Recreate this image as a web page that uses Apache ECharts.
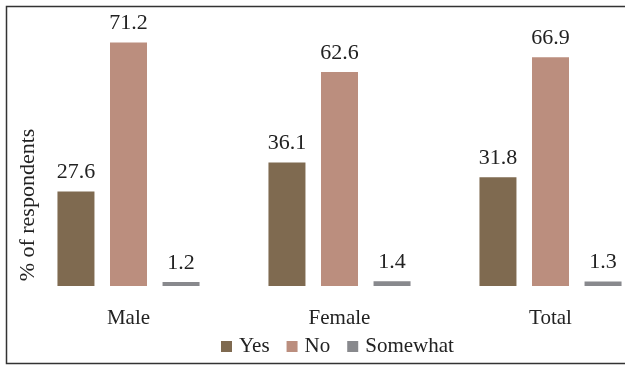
<!DOCTYPE html>
<html>
<head>
<meta charset="utf-8">
<script src="https://cdn.jsdelivr.net/npm/echarts@6/dist/echarts.min.js"></script>
<style>
  html, body { margin: 0; padding: 0; background: #fff; }
  #chart { width: 625px; height: 366px; }
</style>
</head>
<body>
<div id="chart"></div>
<script>
// Share of respondents by gender
const categories = ['Male', 'Female', 'Total'];
const yesValues = [27.6, 36.1, 31.8];
const noValues = [71.2, 62.6, 66.9];
const somewhatValues = [1.2, 1.4, 1.3];
const seriesNames = ['Yes', 'No', 'Somewhat'];
const yAxisTitle = '% of respondents';

const FONT = '"Liberation Serif", "DejaVu Serif", serif';
const colors = ['#7f6a50', '#bb8e7e', '#88898d'];

const labelStyle = {
  show: true,
  position: 'top',
  distance: 8,
  color: '#222',
  fontFamily: FONT,
  fontSize: 22
};

function barSeries(name, data, color) {
  return {
    name: name,
    type: 'bar',
    data: data,
    barWidth: 37,
    barGap: '42%',
    itemStyle: { color: color },
    label: labelStyle
  };
}

const chart = echarts.init(document.getElementById('chart'), null, { renderer: 'canvas' });
chart.setOption({
  animation: false,
  color: colors,
  grid: { left: 23, width: 633, top: 12.4, bottom: 80, containLabel: false, outerBoundsMode: 'none' },
  xAxis: {
    type: 'category',
    data: categories,
    axisLine: { show: false },
    axisTick: { show: false },
    axisLabel: { color: '#222', fontFamily: FONT, fontSize: 21, margin: 22 }
  },
  yAxis: {
    type: 'value',
    min: 0,
    max: 80,
    axisLine: { show: false },
    axisTick: { show: false },
    axisLabel: { show: false },
    splitLine: { show: false }
  },
  legend: {
    data: seriesNames,
    bottom: 4,
    left: 216,
    itemWidth: 11,
    itemHeight: 11,
    itemGap: 17,
    icon: 'rect',
    textStyle: { color: '#222', fontFamily: FONT, fontSize: 21, padding: [0, 0, 0, 2] }
  },
  graphic: [{
    type: 'rect',
    shape: { x: 6.5, y: 6.5, width: 640, height: 357 },
    style: { fill: 'none', stroke: '#333', lineWidth: 1.5 },
    silent: true
  }, {
    type: 'text',
    x: 28,
    y: 205,
    rotation: Math.PI / 2,
    style: {
      text: yAxisTitle,
      fill: '#222',
      font: '22px ' + FONT,
      align: 'center',
      verticalAlign: 'middle'
    },
    silent: true
  }],
  series: [
    barSeries(seriesNames[0], yesValues, colors[0]),
    barSeries(seriesNames[1], noValues, colors[1]),
    barSeries(seriesNames[2], somewhatValues, colors[2])
  ]
});
</script>
</body>
</html>
